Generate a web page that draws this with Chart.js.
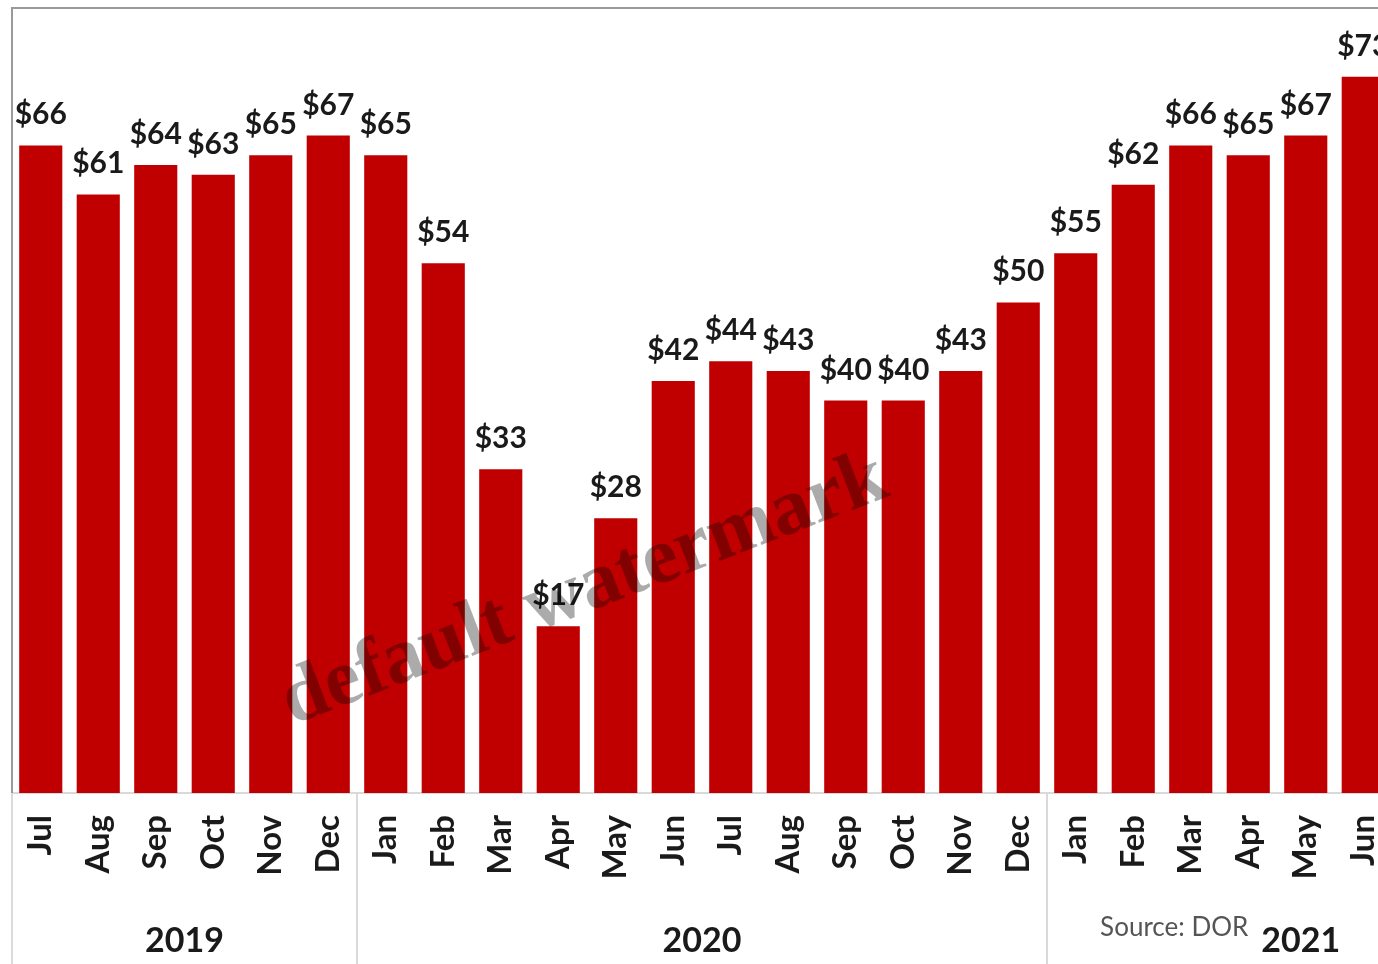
<!DOCTYPE html>
<html>
<head>
<meta charset="utf-8">
<title>Monthly revenue</title>
<script src="https://cdn.jsdelivr.net/npm/chart.js@4.4.1/dist/chart.umd.min.js"></script>
<style>
  html, body { margin: 0; padding: 0; background: #fff; overflow: hidden; }
  #wrap { position: relative; width: 1378px; height: 964px; overflow: hidden; }
  #inner { position: absolute; left: 0; top: 0; width: 1400px; height: 964px; }
</style>
</head>
<body>
<div id="wrap"><div id="inner"><canvas id="chart" width="1400" height="964"></canvas></div></div>
<script>
// monthly values, Jul 2019 - Jun 2021
const months = ['Jul', 'Aug', 'Sep', 'Oct', 'Nov', 'Dec',
                'Jan', 'Feb', 'Mar', 'Apr', 'May', 'Jun', 'Jul', 'Aug', 'Sep', 'Oct', 'Nov', 'Dec',
                'Jan', 'Feb', 'Mar', 'Apr', 'May', 'Jun'];
const values = [66, 61, 64, 63, 65, 67,
                65, 54, 33, 17, 28, 42, 44, 43, 40, 40, 43, 50,
                55, 62, 66, 65, 67, 73];
const years = ['2019', '2020', '2021'];
const yearFirst = [0, 6, 18];
const yearLast = [5, 17, 23];
const sourceNote = 'Source: DOR';
const watermark = 'default watermark';

const FONT = 'Lato, "Noto Sans", sans-serif';

const extras = {
    id: 'extras',
    afterDatasetsDraw(chart) {
        const ctx = chart.ctx;
        const meta = chart.getDatasetMeta(0);
        ctx.save();
        ctx.fillStyle = '#1a1a1a';
        ctx.font = 'bold 30px ' + FONT;
        ctx.textAlign = 'center';
        ctx.textBaseline = 'alphabetic';
        meta.data.forEach((bar, i) => {
            ctx.fillText('$' + values[i], bar.x, bar.y - 21);
        });
        ctx.restore();
    },
    afterDraw(chart) {
        const ctx = chart.ctx;
        const x = chart.scales.x;
        const area = chart.chartArea;
        const half = (x.getPixelForValue(1) - x.getPixelForValue(0)) / 2;
        ctx.save();

        // frame
        ctx.strokeStyle = '#9a9a9a';
        ctx.lineWidth = 2;
        ctx.beginPath();
        ctx.moveTo(area.left, area.bottom);
        ctx.lineTo(area.left, area.top);
        ctx.lineTo(chart.width, area.top);
        ctx.stroke();

        // group separators under the axis
        ctx.strokeStyle = '#dadada';
        ctx.lineWidth = 2;
        ctx.beginPath();
        ctx.moveTo(area.left, area.bottom);
        ctx.lineTo(area.left, chart.height);
        yearFirst.slice(1).forEach(i => {
            const px = x.getPixelForValue(i) - half;
            ctx.moveTo(px, area.bottom);
            ctx.lineTo(px, chart.height);
        });
        ctx.stroke();

        // year labels
        ctx.fillStyle = '#1a1a1a';
        ctx.font = 'bold 34px ' + FONT;
        ctx.textAlign = 'center';
        ctx.textBaseline = 'alphabetic';
        years.forEach((y, k) => {
            let cx = (x.getPixelForValue(yearFirst[k]) + x.getPixelForValue(yearLast[k])) / 2;
            if (k === years.length - 1) cx = x.getPixelForValue(yearLast[k] - 1) - 5;
            ctx.fillText(y, cx, 952);
        });

        // source
        ctx.fillStyle = '#555555';
        ctx.font = '26px ' + FONT;
        ctx.textAlign = 'right';
        ctx.fillText(sourceNote, x.getPixelForValue(yearLast[2] - 2), 936);

        // watermark
        ctx.translate(592, 610);
        ctx.rotate(-21 * Math.PI / 180);
        ctx.fillStyle = 'rgba(0, 0, 0, 0.33)';
        ctx.font = 'bold 80px "Liberation Serif", "DejaVu Serif", serif';
        ctx.textAlign = 'center';
        ctx.fillText(watermark, 0, 0);
        ctx.restore();
    }
};

new Chart(document.getElementById('chart'), {
    type: 'bar',
    data: {
        labels: months,
        datasets: [{
            data: values,
            backgroundColor: '#c00000',
            borderWidth: 0,
            barPercentage: 1,
            categoryPercentage: 0.75
        }]
    },
    options: {
        responsive: false,
        animation: false,
        // canvas is wider than the window: the original runs off the right edge
        layout: { padding: { left: 12, top: 8, right: 8, bottom: 0 } },
        plugins: {
            legend: { display: false },
            tooltip: { enabled: false }
        },
        scales: {
            x: {
                grid: { display: false, drawTicks: false },
                border: { display: true, color: '#d9d9d9', width: 2 },
                ticks: {
                    minRotation: 90,
                    maxRotation: 90,
                    padding: 22,
                    color: '#1a1a1a',
                    font: { family: FONT, size: 33, weight: 'bold' }
                },
                afterFit(scale) {
                    scale.height = 171;
                    scale.paddingLeft = 0;
                    scale.paddingRight = 0;
                }
            },
            y: {
                display: false,
                min: 0,
                max: 80
            }
        }
    },
    plugins: [extras]
});
</script>
</body>
</html>
